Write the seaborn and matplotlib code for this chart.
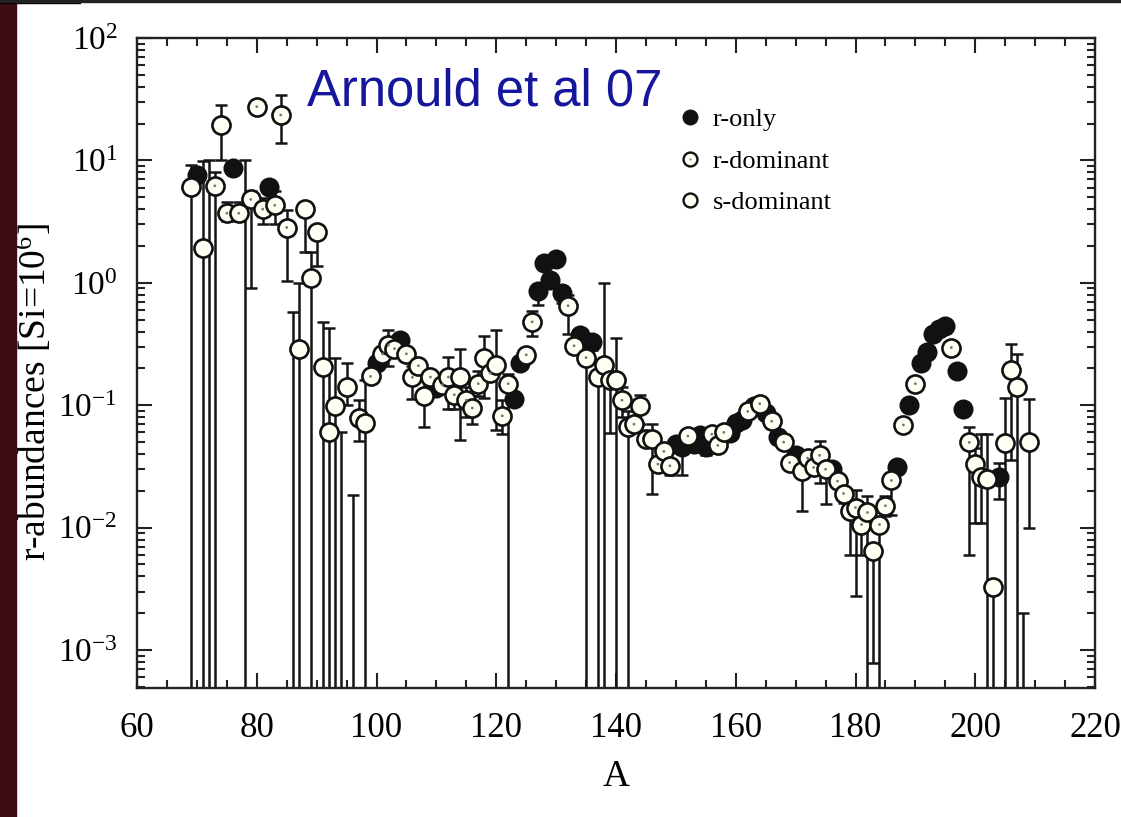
import numpy as np
import pandas as pd
import matplotlib
matplotlib.use("Agg")
import matplotlib.pyplot as plt
import seaborn as sns
from matplotlib.lines import Line2D
from matplotlib.patches import Rectangle
from matplotlib.ticker import FixedLocator, MultipleLocator, LogLocator, FuncFormatter, NullFormatter

# ---------------- data ----------------
# mass number A
mass = [69, 70, 71, 72, 73, 74, 75, 76, 77, 78, 79, 80, 81, 82, 83, 84, 85, 86, 87, 88,
        89, 90, 91, 92, 93, 94, 95, 96, 97, 98, 99, 100, 101, 102, 103, 104, 105, 106, 107, 108,
        109, 110, 111, 112, 113, 114, 115, 116, 117, 118, 119, 120, 121, 122, 123, 124, 125, 126, 127, 128,
        129, 130, 131, 132, 133, 134, 135, 136, 137, 138, 139, 140, 141, 142, 143, 144, 145, 146, 147, 148,
        149, 150, 151, 152, 153, 154, 155, 156, 157, 158, 159, 160, 161, 162, 163, 164, 165, 166, 167, 168,
        169, 170, 171, 172, 173, 174, 175, 176, 177, 178, 179, 180, 181, 182, 183, 184, 185, 186, 187, 188,
        189, 190, 191, 192, 193, 194, 195, 196, 197, 198, 199, 200, 201, 202, 203, 204, 205, 206, 207, 208,
        209]
# r-abundance (Si = 1e6); 1e-4 = marker below the plotted range
abund = [6.1, 7.6, 1.94, 1e-4, 6.2, 19.5, 3.7, 8.6, 3.7, 1e-4, 4.8, 27.5, 4.0, 6.1, 4.3, 23.5, 2.83, 1e-4, 0.288, 4.0,
         1.09, 2.58, 0.207, 0.061, 0.098, 1e-4, 0.14, 1e-4, 0.078, 0.072, 0.172, 0.22, 0.263, 0.31, 0.29, 0.34, 0.263, 0.169, 0.21, 0.118,
         0.17, 0.138, 0.147, 0.17, 0.122, 0.17, 0.11, 0.095, 0.15, 0.243, 0.183, 0.214, 0.082, 0.15, 0.112, 0.22, 0.258, 0.48, 0.85, 1.45,
         1.06, 1.56, 0.82, 0.65, 0.306, 0.377, 0.245, 0.326, 0.169, 0.214, 0.16, 0.16, 0.11, 0.066, 0.07, 0.099, 0.053, 0.053, 0.033, 0.042,
         0.032, 0.048, 0.046, 0.056, 0.048, 0.057, 0.046, 0.058, 0.047, 0.06, 0.059, 0.072, 0.076, 0.089, 0.098, 0.103, 0.086, 0.074, 0.055, 0.050,
         0.034, 0.039, 0.029, 0.037, 0.031, 0.039, 0.030, 0.030, 0.024, 0.019, 0.0136, 0.0146, 0.0106, 0.0133, 0.0065, 0.0106, 0.0151, 0.0243, 0.031, 0.069,
         0.101, 0.15, 0.223, 0.27, 0.384, 0.42, 0.446, 0.296, 0.189, 0.093, 0.0497, 0.033, 0.026, 0.025, 0.0033, 0.026, 0.049, 0.195, 0.141, 1e-4,
         0.0497]
# r = r-only, rd = r-dominant, sd = s-dominant
kind = ["sd", "r", "sd", "sd", "rd", "sd", "rd", "r", "rd", "sd", "rd", "rd", "rd", "r", "rd", "rd", "rd", "sd", "sd", "sd",
        "sd", "sd", "sd", "sd", "sd", "sd", "sd", "sd", "sd", "sd", "rd", "r", "rd", "rd", "rd", "r", "rd", "rd", "rd", "sd",
        "rd", "r", "rd", "rd", "rd", "sd", "rd", "rd", "rd", "sd", "rd", "sd", "rd", "rd", "r", "r", "rd", "rd", "r", "r",
        "r", "r", "r", "rd", "rd", "r", "rd", "r", "sd", "sd", "sd", "sd", "rd", "sd", "rd", "sd", "sd", "sd", "rd", "rd",
        "rd", "r", "r", "rd", "r", "r", "r", "rd", "rd", "rd", "r", "r", "r", "rd", "r", "rd", "r", "rd", "r", "rd",
        "rd", "r", "sd", "rd", "rd", "rd", "rd", "r", "rd", "rd", "sd", "rd", "rd", "rd", "sd", "rd", "rd", "rd", "r", "rd",
        "r", "rd", "r", "r", "r", "r", "r", "rd", "r", "r", "rd", "sd", "sd", "sd", "sd", "r", "sd", "sd", "sd", "sd",
        "sd"]
nan = np.nan
# lower / upper end of the uncertainty bar (absolute values); nan = none, 1e-5 = runs off the bottom
err_low = [1e-5, nan, 1e-5, nan, 1e-5, 10, 3.2, nan, 3.2, 1e-5, 0.91, 24, 3.0, nan, 3.0, 14, 1.04, 1e-5, 1e-5, 1.8,
           1e-5, 1.36, 1e-5, 1e-5, 1e-5, 1e-5, 0.1, 1e-5, 0.051, 1e-5, nan, nan, nan, 0.21, nan, nan, nan, 0.112, nan, 0.067,
           nan, nan, nan, 0.094, 0.094, 0.052, 0.08, 0.07, 0.12, 0.115, nan, 0.063, 0.058, 1e-5, nan, nan, nan, 0.37, 0.66, nan,
           nan, nan, 0.68, 0.38, nan, 0.33, 1e-5, 0.28, 1e-5, 1e-5, 0.059, 1e-5, 0.08, 1e-5, nan, 0.07, nan, 0.019, nan, nan,
           0.027, nan, 0.027, nan, nan, nan, 0.039, nan, nan, nan, nan, nan, nan, nan, nan, nan, nan, nan, nan, nan,
           0.03, nan, 0.0138, nan, nan, 0.023, 0.0155, nan, nan, 0.016, 0.006, 0.00275, 0.006, 1e-5, 0.00079, 1e-5, 0.0125, 0.0126, nan, nan,
           nan, nan, nan, nan, nan, nan, nan, 0.26, nan, nan, 0.006, 0.011, 0.011, 1e-5, 1e-5, 0.017, 1e-5, 0.036, 1e-5, 1e-5,
           0.0099]
err_high = [9.2, nan, 9.8, 10.0, 8.1, 28.4, 4.6, nan, 4.6, 10.0, 5.6, 31, 4.9, nan, 5.6, 34, 3.9, 0.58, 1.0, 4.6,
            1.8, 2.9, 0.48, 0.43, 0.245, 0.06, 0.22, 0.0186, 0.11, 0.16, nan, nan, nan, 0.41, nan, nan, nan, 0.21, nan, 0.17,
            nan, nan, nan, 0.25, 0.15, 0.29, 0.14, 0.12, 0.19, 0.37, nan, 0.41, 0.11, 0.18, nan, nan, nan, 0.59, 0.97, nan,
            nan, nan, nan, 0.8, nan, 0.42, nan, nan, nan, 1.0, 0.19, 0.355, 0.14, 0.09, nan, 0.122, nan, 0.07, nan, nan,
            nan, nan, nan, nan, nan, nan, nan, nan, nan, nan, nan, nan, nan, nan, nan, nan, nan, nan, nan, nan,
            nan, nan, nan, nan, nan, 0.051, nan, nan, nan, nan, nan, 0.0204, nan, 0.018, nan, nan, 0.018, nan, nan, nan,
            nan, nan, nan, nan, nan, nan, nan, 0.33, nan, nan, 0.066, 0.045, 0.058, 0.058, nan, 0.034, 0.114, 0.316, 0.26, 0.002,
            0.113]

legend_labels = {"r": "r-only", "rd": "r-dominant", "sd": "s-dominant"}
x_ticks = [60, 80, 100, 120, 140, 160, 180, 200, 220]
y_exponents = [-3, -2, -1, 0, 1, 2]
annotation = "Arnould et al 07"

df = pd.DataFrame({"A": mass, "abund": abund, "kind": kind, "lo": err_low, "hi": err_high})

# ---------------- style ----------------
sns.set_theme(style="ticks")
plt.rcParams["font.family"] = ["Liberation Serif", "DejaVu Serif"]
plt.rcParams["mathtext.fontset"] = "custom"
plt.rcParams["mathtext.rm"] = "Liberation Serif"
plt.rcParams["mathtext.it"] = "Liberation Serif:italic"
plt.rcParams["mathtext.bf"] = "Liberation Serif:bold"
for key in ["text.color", "axes.labelcolor", "xtick.color", "ytick.color"]:
    plt.rcParams[key] = "black"

W, H = 1121, 817
fig = plt.figure(figsize=(W / 100, H / 100), dpi=100)
fig.patch.set_facecolor("white")
ax = fig.add_axes([137 / W, 1 - 688 / H, (1095 - 137) / W, (688 - 38) / H])
ax.set_facecolor("white")

# slide decorations around the screenshot
fig.patches.append(Rectangle((0, 0), 16 / W, 1, transform=fig.transFigure, color="#3b0d12", zorder=0))
fig.patches.append(Rectangle((0, 1 - 3 / H), 80 / W, 3 / H, transform=fig.transFigure, color="black", zorder=0))
fig.patches.append(Rectangle((0, 1 - 2 / H), 1, 2 / H, transform=fig.transFigure, color="#222222", zorder=0))

ax.set_yscale("log")
ax.set_xlim(60, 220)
ax.set_ylim(10 ** -3.31, 100)

# ---------------- error bars ----------------
has_err = ~(df["lo"].isna() & df["hi"].isna())
e = df[has_err]
lower = np.where(e["lo"].isna(), 0.0, e["abund"] - e["lo"].fillna(0))
upper = np.where(e["hi"].isna(), 0.0, e["hi"].fillna(0) - e["abund"])
ax.errorbar(e["A"], e["abund"], yerr=[lower, upper], fmt="none", ecolor="#151515",
            elinewidth=1.8, capsize=4, capthick=1.8, zorder=2)

# ---------------- markers ----------------
ms = 170
sns.scatterplot(data=df[df["kind"] == "r"], x="A", y="abund", s=ms, color="#111111",
                edgecolor="#111111", linewidth=1.4, ax=ax, zorder=3, legend=False)
sns.scatterplot(data=df[df["kind"] != "r"], x="A", y="abund", s=ms, color="#fffff4",
                edgecolor="#111111", linewidth=1.9, ax=ax, zorder=4, legend=False)
sns.scatterplot(data=df[df["kind"] == "rd"], x="A", y="abund", s=4, color="#777777",
                edgecolor="none", ax=ax, zorder=5, legend=False)

# ---------------- axes, ticks ----------------
ax.xaxis.set_major_locator(FixedLocator(x_ticks))
ax.xaxis.set_minor_locator(MultipleLocator(5))
ax.yaxis.set_major_locator(FixedLocator([10.0 ** k for k in y_exponents]))
ax.yaxis.set_minor_locator(LogLocator(base=10, subs=np.arange(2, 10)))
ax.yaxis.set_minor_formatter(NullFormatter())
ax.yaxis.set_major_formatter(FuncFormatter(lambda v, p: r"$\mathregular{10^{%d}}$" % int(round(np.log10(v)))))
ax.tick_params(axis="both", which="both", direction="in", top=True, right=True,
               color="#222222", width=1.5)
ax.tick_params(axis="both", which="major", length=11)
ax.tick_params(axis="both", which="minor", length=6)
ax.tick_params(axis="x", which="major", labelsize=25, pad=17)
ax.tick_params(axis="y", which="major", labelsize=24, pad=14)
for sp in ax.spines.values():
    sp.set_color("#222222")
    sp.set_linewidth(1.7)

ax.set_xlabel("A", fontsize=27, labelpad=11)
ax.set_ylabel(r"r-abundances [Si=10$^{\mathregular{6}}$]", fontsize=27)
ax.yaxis.set_label_coords((54 - 137) / (1095 - 137), (688 - 392) / (688 - 38))

# ---------------- annotation ----------------
ax.text((307 - 137) / (1095 - 137), (688 - 105) / (688 - 38), annotation, transform=ax.transAxes,
        fontsize=36.5, color="#16169c", family=["Liberation Sans", "DejaVu Sans"], va="baseline", ha="left")

# ---------------- legend ----------------
handles = [
    Line2D([], [], ls="none", marker="o", ms=10.5, mfc="#111111", mec="#111111"),
    (Line2D([], [], ls="none", marker="o", ms=10, mfc="#fffff4", mec="#111111", mew=1.7),
     Line2D([], [], ls="none", marker="o", ms=1.5, mfc="#777777", mec="none")),
    Line2D([], [], ls="none", marker="o", ms=10, mfc="#fffff4", mec="#111111", mew=1.7),
]
ax.legend(handles, [legend_labels[k] for k in ["r", "rd", "sd"]], loc="upper left",
          bbox_to_anchor=((677 - 137) / (1095 - 137), (688 - 108) / (688 - 38)),
          frameon=False, fontsize=19, handlelength=1.0, handletextpad=0.35,
          labelspacing=0.68, borderpad=0, borderaxespad=0)

fig.savefig("out.png", dpi=100)
